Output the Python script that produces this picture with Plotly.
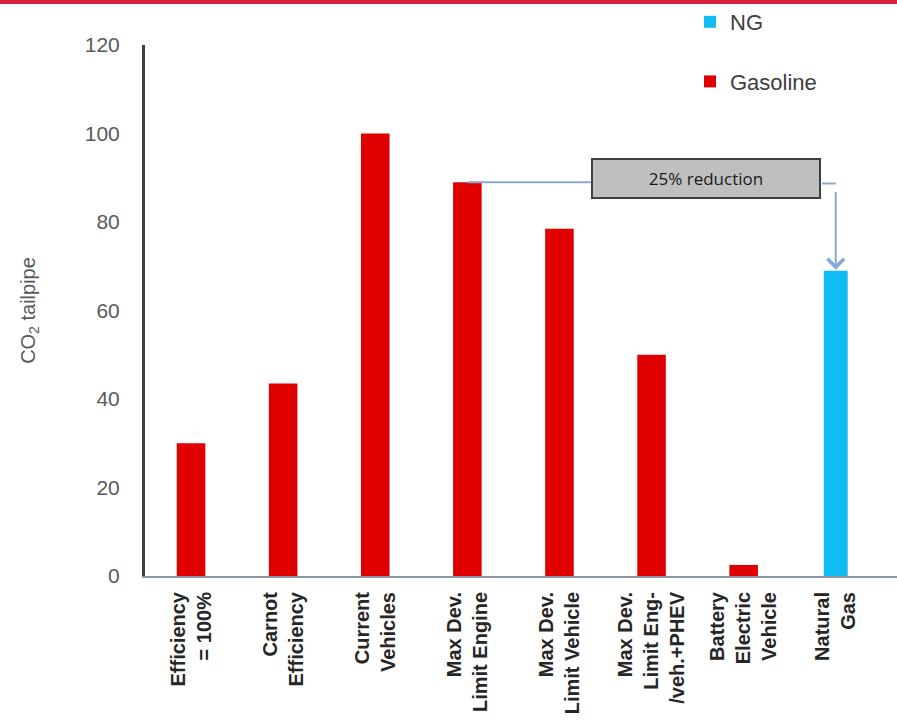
import plotly.graph_objects as go

categories = ["Efficiency<br>= 100%", "Carnot<br>Efficiency", "Current<br>Vehicles",
              "Max Dev.<br>Limit Engine", "Max Dev.<br>Limit Vehicle",
              "Max Dev.<br>Limit Eng-<br>/veh.+PHEV", "Battery<br>Electric<br>Vehicle",
              "Natural<br>Gas"]
gasoline_values = [30, 43.5, 100, 89, 78.5, 50, 2.5, None]
ng_values = [None, None, None, None, None, None, None, 69]
y_ticks = [0, 20, 40, 60, 80, 100, 120]
annotation_text = "25% reduction"

RED = "#E00000"
BLUE = "#12BCF2"
CONN = "#86A8D6"

W, H = 897, 722
L, R, T, B = 145, 0, 45, 146
pw, ph = W - L - R, H - T - B

fig = go.Figure()
fig.add_trace(go.Bar(x=categories, y=ng_values, name="NG", legendgroup="ng",
                     marker=dict(color=BLUE, line=dict(width=0)), width=0.26))
fig.add_trace(go.Bar(x=categories, y=gasoline_values, name="Gasoline", legendgroup="gas",
                     marker=dict(color=RED, line=dict(width=0)), width=0.31))

engine_idx = 3
ng_idx = 7
eng_val = gasoline_values[engine_idx]
ng_val = ng_values[ng_idx]
box_left, box_right = 4.34, 6.85

shapes = [
    # top red band
    dict(type="rect", xref="paper", yref="paper", x0=-L / pw, x1=1 + R / pw,
         y0=1 + (T - 4) / ph, y1=1 + T / ph, fillcolor="#DC1F3C", line=dict(width=0), layer="above"),
    # connector from engine bar to box
    dict(type="line", xref="x", yref="y", x0=engine_idx, x1=box_left, y0=eng_val, y1=eng_val,
         line=dict(color=CONN, width=2)),
    # connector from box to NG column
    dict(type="line", xref="x", yref="y", x0=box_right, x1=ng_idx, y0=eng_val - 0.3, y1=eng_val - 0.3,
         line=dict(color=CONN, width=2)),
]
fig.update_layout(shapes=shapes)

fig.add_annotation(x=(box_left + box_right) / 2, y=eng_val + 0.9, xref="x", yref="y",
                   text=annotation_text, showarrow=False,
                   font=dict(family="Open Sans, Lato, sans-serif", size=17, color="#1a1a1a"),
                   bgcolor="#BFBFBF", bordercolor="#404040", borderwidth=2,
                   width=226, height=37, borderpad=0)
# arrow down to the NG bar
y_per_unit = ph / 120.0
fig.add_annotation(x=ng_idx, y=ng_val, xref="x", yref="y", text=" ",
                   showarrow=True, ax=0, ay=-((eng_val - 0.3 - ng_val) * y_per_unit),
                   arrowcolor=CONN, arrowwidth=2, arrowhead=4, arrowsize=1.6, standoff=1)

fig.update_layout(
    width=W, height=H,
    margin=dict(l=L, r=R, t=T, b=B),
    paper_bgcolor="white", plot_bgcolor="white",
    barmode="overlay",
    font=dict(family="Liberation Sans, Arial, sans-serif", color="#595959"),
    showlegend=True,
    legend=dict(x=(690 - L) / pw, y=1 + (T - 1) / ph, xanchor="left", yanchor="top",
                font=dict(size=22, color="#404040"), tracegroupgap=28,
                traceorder="grouped", bgcolor="rgba(0,0,0,0)"),
    xaxis=dict(type="category", range=[-0.5, 7.665], showgrid=False, zeroline=False,
               showline=True, linecolor="#8C9BAA", linewidth=2, ticks="",
               tickangle=-90, ticklabelstandoff=6,
               tickfont=dict(family="Liberation Sans, Arial, sans-serif", size=20, color="#262626", weight="bold")),
    yaxis=dict(range=[0, 120], tickvals=y_ticks, showgrid=False, zeroline=False,
               showline=True, linecolor="#404040", linewidth=3, ticks="",
               ticklabelstandoff=18,
               tickfont=dict(size=21, color="#595959"),
               title=dict(text="CO<sub>2</sub> tailpipe", font=dict(size=20, color="#595959"), standoff=44)),
)

fig.write_html("out.html")
